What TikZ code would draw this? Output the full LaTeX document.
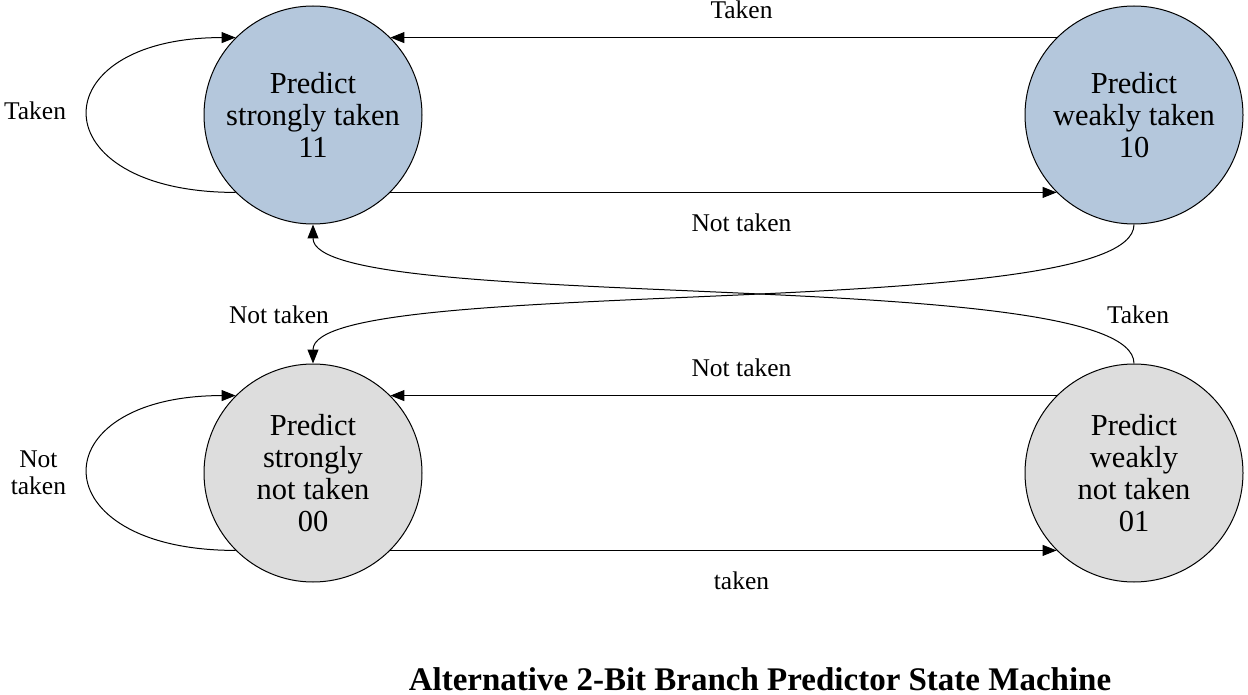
\documentclass[tikz,border=0pt]{standalone}
\usepackage{fontspec}
\setmainfont{Liberation Serif}
\usetikzlibrary{arrows.meta,automata,positioning}

\definecolor{predblue}{RGB}{180,199,220}
\definecolor{predgray}{RGB}{221,221,221}

\begin{document}
\begin{tikzpicture}[x=1pt,y=-1pt,>={Triangle[length=14pt,width=11pt]},
    node distance=139pt and 602pt,line width=1pt]
  \tikzstyle{every state}=[minimum size=218pt,inner sep=0pt,align=center,
    line width=1pt,font=\fontsize{30.5}{32}\selectfont]
  \tikzstyle{edgelabel}=[font=\fontsize{25.5}{27}\selectfont,align=center]

  \useasboundingbox[fill=white] (0,0) rectangle (1248,695);

  \node[state,fill=predblue] (q11) at (313,115) {Predict\\strongly taken\\11};
  \node[state,fill=predblue] (q10) [right=of q11] {Predict\\weakly taken\\10};
  \node[state,fill=predgray] (q00) [below=of q11] {Predict\\strongly\\not taken\\00};
  \node[state,fill=predgray] (q01) [right=of q00] {Predict\\weakly\\not taken\\01};

  \path[->]
  (q10.135) edge node[edgelabel,above=15pt,xshift=18pt] (lTT) {Taken}     (q11.45)
  (q11.-45) edge node[edgelabel,below=18pt,xshift=18pt] (lTN) {Not taken} (q10.-135)
  (q01.135) edge node[edgelabel,above=15pt,xshift=18pt] (lBN) {Not taken} (q00.45)
  (q00.-45) edge node[edgelabel,below=18pt,xshift=18pt] (lBT) {taken}     (q01.-135);

  % self loops
  \draw[->] (q11.225) .. controls +(-197,0) and +(-197,0) ..
    node[edgelabel,left=18pt,yshift=4pt] (lLT) {Taken} (q11.135);
  \draw[->] (q00.225) .. controls +(-197,0) and +(-197,0) ..
    node[edgelabel,left=18pt] (lLN) {Not\\taken} (q00.135);

  % crossing transitions
  \draw[->] (q10.south) .. controls +(0,100) and +(0,-91) .. (q00.north);
  \draw[->] (q01.north) .. controls +(0,-100) and +(0,91) .. (q11.south);
  \node[edgelabel] (lXN) at (279,315) {Not taken};
  \node[edgelabel] (lXT) at (1138,315) {Taken};

  \node[font=\bfseries\fontsize{33}{36}\selectfont,anchor=base,inner sep=0pt]
    (title) at (760,690) {Alternative 2-Bit Branch Predictor State Machine};
\end{tikzpicture}
\end{document}
